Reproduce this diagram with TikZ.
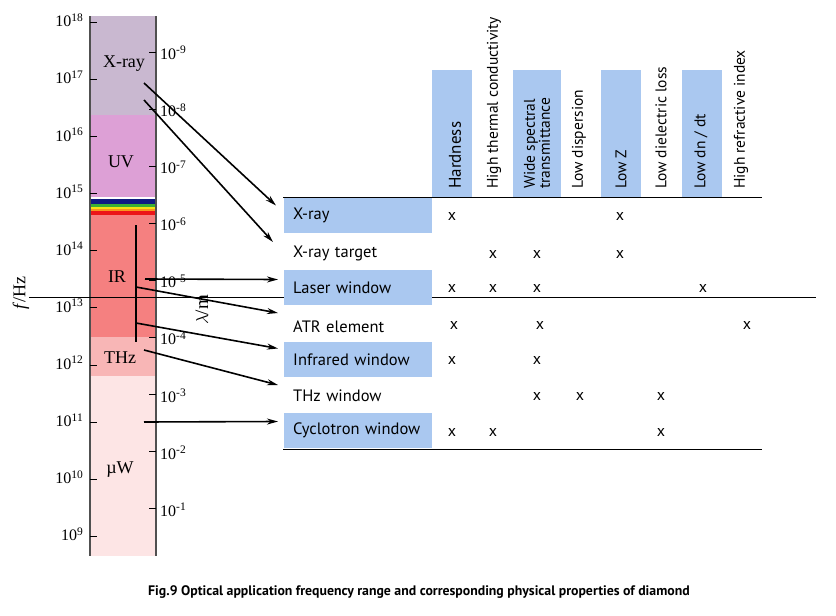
\documentclass[tikz,border=0pt]{standalone}
\usepackage{fontspec}
\setmainfont{Liberation Serif}
\newfontfamily\tabfont{PT Sans}
\usetikzlibrary{arrows.meta}
\definecolor{cxray}{RGB}{201,184,208}
\definecolor{cuv}{RGB}{221,160,214}
\definecolor{cnavy}{RGB}{16,26,130}
\definecolor{cgreen}{RGB}{60,176,52}
\definecolor{cyellow}{RGB}{246,226,20}
\definecolor{corange}{RGB}{248,150,30}
\definecolor{cred}{RGB}{236,20,24}
\definecolor{cir}{RGB}{245,128,128}
\definecolor{cthz}{RGB}{248,182,182}
\definecolor{cmw}{RGB}{253,229,229}
\definecolor{cblue}{RGB}{170,200,240}
\definecolor{cedge}{RGB}{80,80,80}
\newcommand{\pw}[1]{{\fontsize{16}{16}\selectfont 10}\raisebox{5.5pt}{\fontsize{11.5}{12}\selectfont #1}}
\tikzset{
  flab/.style={anchor=east,inner sep=0pt},
  wlab/.style={anchor=west,inner sep=0pt},
  reglab/.style={inner sep=0pt,font=\fontsize{18}{18}\selectfont},
  tick/.style={line width=1pt,draw=black},
  conn/.style={line width=1.6pt,-{Stealth[length=11pt,width=6pt]}},
  rowlab/.style={anchor=west,inner xsep=9pt,inner ysep=0pt,text width=130pt,minimum height=35pt,align=left,font=\tabfont\fontsize{16.5}{17}\selectfont},
  colhead/.style={rotate=90,anchor=west,inner sep=0pt,font=\tabfont\fontsize{15.5}{13}\selectfont,align=left},
  colbox/.style={fill=cblue,draw=none},
  xmark/.style={inner sep=0pt,font=\tabfont\fontsize{16}{16}\selectfont},
  rule/.style={line width=1pt,draw=black}
}
\begin{document}
\begin{tikzpicture}[x=1pt,y=-1pt]
\useasboundingbox (0,0) rectangle (836,616);
% spectrum bar
\fill[cxray] (90,16) rectangle (156,115);
\fill[cuv] (90,115) rectangle (156,197);
\fill[white] (90,197) rectangle (156,199);
\fill[cnavy] (90,199) rectangle (156,204);
\fill[cgreen] (90,204) rectangle (156,206.7);
\fill[cyellow] (90,206.7) rectangle (156,209.3);
\fill[corange] (90,209.3) rectangle (156,211);
\fill[cred] (90,211) rectangle (156,215);
\fill[cir] (90,215) rectangle (156,337);
\fill[cthz] (90,337) rectangle (156,376);
\fill[cmw] (90,376) rectangle (156,556);
\draw[cedge,line width=1.3pt] (90,16) -- (90,556) (156,16) -- (156,556);
% frequency ticks and labels
\foreach \e [count=\i from 0] in {18,17,16,15,14,13,12,11,10,9}{
  \pgfmathsetmacro{\yy}{22.4+57.1*\i}
  \draw[tick] (90,\yy) -- (97,\yy);
  \node[flab] (f\e) at (83,\yy-2) {\pw{\e}};
}
% wavelength ticks and labels
\foreach \e [count=\i from 0] in {9,8,7,6,5,4,3,2,1}{
  \pgfmathsetmacro{\yy}{52+57.1*\i}
  \draw[tick] (149,\yy) -- (156,\yy);
  \node[wlab] (w\e) at (160,\yy+1) {\pw{-\e}};
}
% region labels
\node[reglab] (lx) at (124,64) {X-ray};
\node[reglab] (luv) at (121,162) {UV};
\node[reglab] (lir) at (117,277) {IR};
\node[reglab] (lthz) at (120,358) {THz};
\node[reglab] (lmw) at (120,470) {\textmu W};
\node[reglab,rotate=90] (fhz) at (21,293) {\textit{f}/Hz};
\node[reglab,rotate=90,font=\fontsize{19}{19}\selectfont] (lam) at (202,310) {$\lambda$/m};
% long horizontal rule
\draw[rule] (29,297) -- (816,297);
% table rules
\draw[rule] (283,197) -- (762,197);
\draw[rule] (283,449) -- (762,449);
% column header boxes
\fill[colbox] (432,70) rectangle (472,197);
\fill[colbox] (513,70) rectangle (561,197);
\fill[colbox] (601,70) rectangle (641,197);
\fill[colbox] (682,70) rectangle (722,197);
% column headers
\node[colhead,font=\tabfont\fontsize{17}{17}\selectfont] (c1) at (455,189) {Hardness};
\node[colhead] (c2) at (494,189) {High thermal conductivity};
\node[colhead,font=\tabfont\fontsize{15.5}{12.5}\selectfont] (c3) at (537,189) {Wide spectral\\transmittance};
\node[colhead] (c4) at (579,189) {Low dispersion};
\node[colhead] (c5) at (621,189) {Low Z};
\node[colhead] (c6) at (661,189) {Low dielectric loss};
\node[colhead] (c7) at (701,189) {Low dn / dt};
\node[colhead] (c8) at (741,189) {High refractive index};
% rows
\node[rowlab,fill=cblue] (r1) at (284,215.5) {X-ray};
\node[rowlab] (r2) at (284,253) {X-ray target};
\node[rowlab,fill=cblue] (r3) at (284,287.5) {Laser window};
\node[rowlab] (r4) at (284,327) {ATR element};
\node[rowlab,fill=cblue] (r5) at (284,359.5) {Infrared window};
\node[rowlab] (r6) at (284,396) {THz window};
\node[rowlab,fill=cblue] (r7) at (284,430.5) {Cyclotron window};
% x marks
\foreach \xx/\yy in {452/216,620/216,
  493/254,537/254,620/254,
  452/288,493/288,537/288,703/288,
  454/325,540/325,747/325,
  452/360,537/360,
  537/396,580/396,661/396,
  452/432,493/432,661/432}{
  \node[xmark] at (\xx,\yy) {x};
}
% source points
\coordinate (s1) at (144,83);
\coordinate (s2) at (144,100);
\coordinate (s3) at (145,279);
\coordinate (s4) at (136,287);
\coordinate (s5) at (136,323);
\coordinate (s6) at (144,350);
\coordinate (s7) at (144,422);
\coordinate (vtop) at (136,225);
\coordinate (vbot) at (136,342);
\draw[line width=1.6pt] (vtop) -- (vbot);
\draw[conn] (s1) -- ([xshift=-8pt,yshift=10pt]r1.west);
\draw[conn] (s2) -- ([xshift=-11pt,yshift=11pt]r2.west);
\draw[conn] (s3) -- ([xshift=-6pt,yshift=8pt]r3.west);
\draw[conn] (s4) -- ([xshift=-6pt,yshift=14pt]r4.west);
\draw[conn] (s5) -- ([xshift=-6pt,yshift=11pt]r5.west);
\draw[conn] (s6) -- ([xshift=-6pt,yshift=11pt]r6.west);
\draw[conn] (s7) -- ([xshift=-6pt,yshift=9pt]r7.west);
% caption
\node[inner sep=0pt,font=\tabfont\bfseries\fontsize{13.8}{14}\selectfont] (cap) at (419,592) {Fig.9 Optical application frequency range and corresponding physical properties of diamond};
\end{tikzpicture}
\end{document}
